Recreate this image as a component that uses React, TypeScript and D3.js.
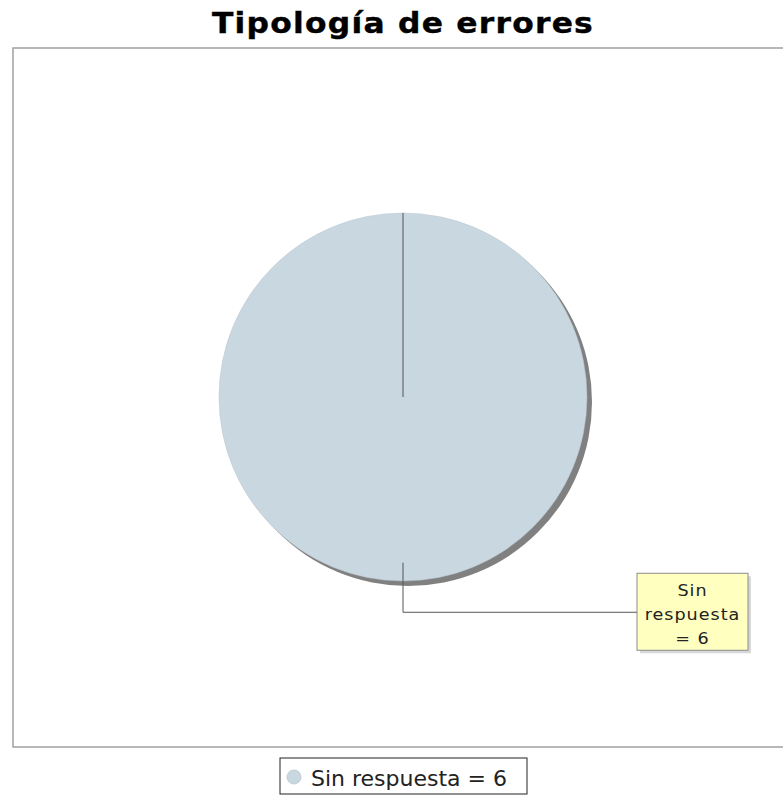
import { useRef, useEffect } from "react";
import * as d3 from "d3";

const categories = ["Sin respuesta"];
const values = [6];
const colors = ["#c9d7e1"];

const title = "Tipología de errores";

export default function App() {
  const ref = useRef<SVGSVGElement | null>(null);

  useEffect(() => {
    const svg = d3.select(ref.current);
    svg.selectAll("*").remove();

    const width = 783;
    const height = 800;
    const cx = 403;
    const cy = 397;
    const radius = 184;

    svg.attr("width", width).attr("height", height);
    svg.append("rect").attr("width", width).attr("height", height).attr("fill", "#fff");

    // title (font in the original is wider than DejaVu, so stretch a bit)
    svg
      .append("g")
      .attr("transform", `translate(${cx},33) scale(1.12,1)`)
      .append("text")
      .attr("x", 0)
      .attr("y", 0)
      .attr("text-anchor", "middle")
      .style("font-family", "DejaVu Sans")
      .style("font-weight", "bold")
      .style("font-size", "28px")
      .style("letter-spacing", "1.1px")
      .attr("stroke", "#000")
      .attr("stroke-width", 0.4)
      .text(title);

    // plot area border
    svg
      .append("rect")
      .attr("x", 13)
      .attr("y", 48)
      .attr("width", 800)
      .attr("height", 699)
      .attr("fill", "#fff")
      .attr("stroke", "#a0a0a0")
      .attr("stroke-width", 1.5);

    const data = categories.map((name, i) => ({ name, value: values[i] }));
    const pie = d3
      .pie<{ name: string; value: number }>()
      .value((d) => d.value)
      .sort(null);
    const arc = d3
      .arc<d3.PieArcDatum<{ name: string; value: number }>>()
      .innerRadius(0)
      .outerRadius(radius);
    const arcs = pie(data);

    // shadow
    const shadow = svg.append("g").attr("transform", `translate(${cx + 5},${cy + 5})`);
    shadow
      .selectAll("path")
      .data(arcs)
      .enter()
      .append("path")
      .attr("d", arc)
      .attr("fill", "#808080");

    const g = svg.append("g").attr("transform", `translate(${cx},${cy})`);
    g.selectAll("path.slice")
      .data(arcs)
      .enter()
      .append("path")
      .attr("class", "slice")
      .attr("d", arc)
      .attr("fill", (_, i) => colors[i % colors.length])
      .attr("stroke", "#b8c4ce")
      .attr("stroke-width", 0.5);

    // slice boundaries
    arcs.forEach((d) => {
      g.append("line")
        .attr("x1", 0)
        .attr("y1", 0)
        .attr("x2", Math.sin(d.startAngle) * radius)
        .attr("y2", -Math.cos(d.startAngle) * radius)
        .attr("stroke", "#555")
        .attr("stroke-width", 1);
    });

    // labels
    arcs.forEach((d) => {
      const mid = (d.startAngle + d.endAngle) / 2;
      const sx = Math.sin(mid) * radius * 0.9;
      const sy = -Math.cos(mid) * radius * 0.9;
      const ey = radius * 1.17 * -Math.cos(mid);
      const boxX = 234;
      const boxW = 111;
      const boxH = 77;
      const boxY = ey - 39;

      g.append("path")
        .attr("d", `M${sx},${sy}L${sx},${ey}L${boxX},${ey}`)
        .attr("fill", "none")
        .attr("stroke", "#555")
        .attr("stroke-width", 1);

      g.append("rect")
        .attr("x", boxX + 3)
        .attr("y", boxY + 3)
        .attr("width", boxW)
        .attr("height", boxH)
        .attr("fill", "#d8d8d8");
      g.append("rect")
        .attr("x", boxX)
        .attr("y", boxY)
        .attr("width", boxW)
        .attr("height", boxH)
        .attr("fill", "#ffffc0")
        .attr("stroke", "#8c8c8c")
        .attr("stroke-width", 1);

      const lines = ["Sin", "respuesta", `= ${d.data.value}`];
      const t = g
        .append("g")
        .attr("transform", `translate(${boxX + boxW / 2},0) scale(1.1,1)`)
        .append("text")
        .attr("text-anchor", "middle")
        .style("font-family", "DejaVu Sans")
        .style("font-size", "16px")
        .style("letter-spacing", "0.9px")
        .attr("fill", "#222");
      lines.forEach((l, i) => {
        t.append("tspan")
          .attr("x", 0)
          .attr("y", boxY + 23 + i * 24)
          .text(l);
      });
    });

    // legend
    const lg = svg.append("g");
    lg.append("rect")
      .attr("x", 280)
      .attr("y", 758)
      .attr("width", 247)
      .attr("height", 36)
      .attr("fill", "#fff")
      .attr("stroke", "#222")
      .attr("stroke-width", 1);
    data.forEach((d, i) => {
      lg.append("circle")
        .attr("cx", 294)
        .attr("cy", 777)
        .attr("r", 7)
        .attr("fill", colors[i % colors.length])
        .attr("stroke", "#b8c4cc")
        .attr("stroke-width", 0.8);
      lg.append("text")
        .attr("x", 311)
        .attr("y", 786)
        .style("font-family", "DejaVu Sans")
        .style("font-size", "22px")
        .attr("fill", "#222")
        .text(`${d.name} = ${d.value}`);
    });
  }, []);

  return <svg ref={ref} style={{ position: "absolute", left: 0, top: 0 }}></svg>;
}
